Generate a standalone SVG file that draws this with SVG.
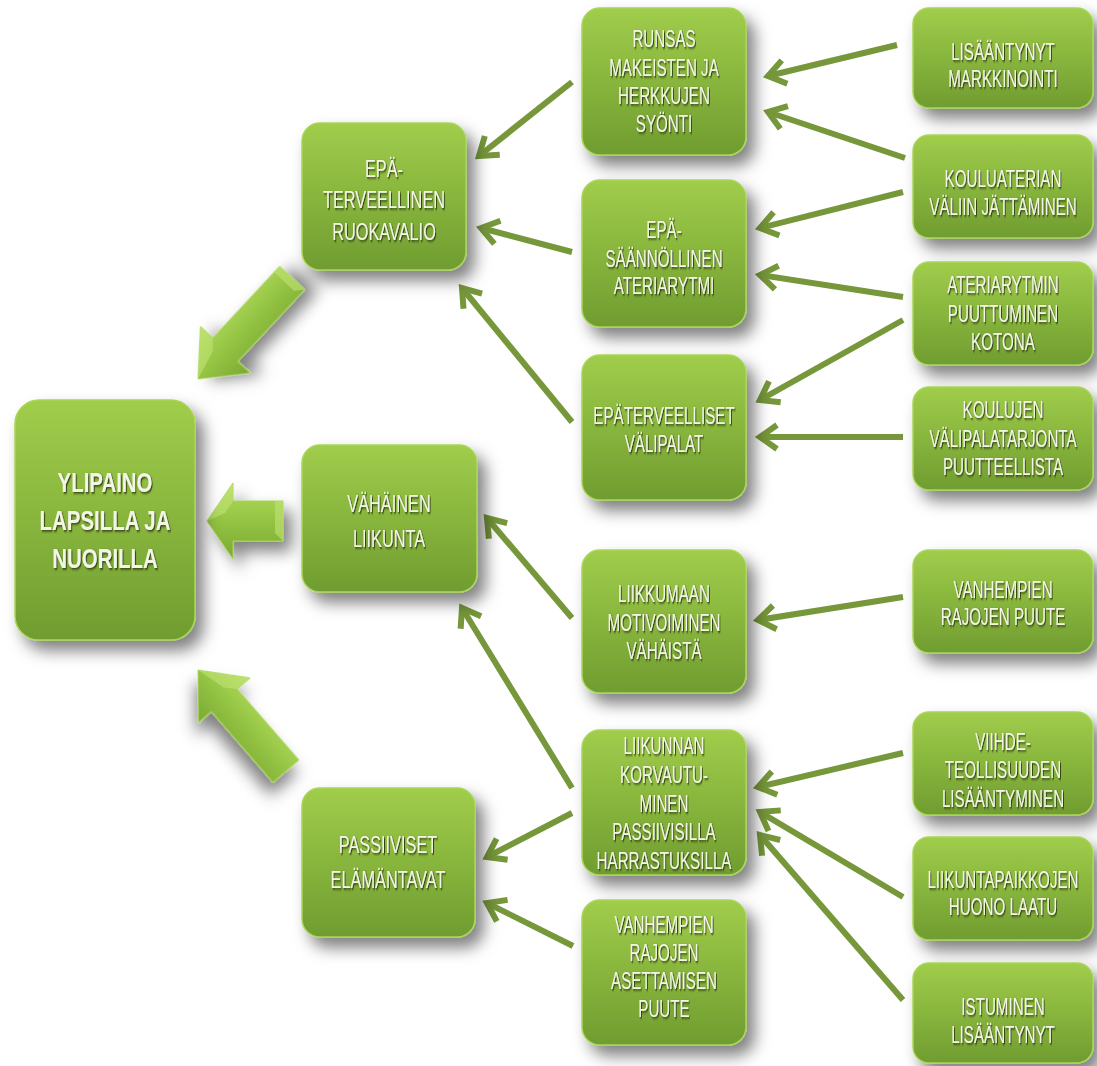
<svg xmlns="http://www.w3.org/2000/svg" width="1097" height="1066" viewBox="0 0 1097 1066">
<defs>
  <linearGradient id="boxGrad" x1="0" y1="0" x2="0" y2="1">
    <stop offset="0" stop-color="#a1cd4c"/>
    <stop offset="0.45" stop-color="#8ab83e"/>
    <stop offset="1" stop-color="#709c30"/>
  </linearGradient>
  <linearGradient id="arrowGrad" x1="0" y1="0" x2="0" y2="1">
    <stop offset="0" stop-color="#b3dc5e"/>
    <stop offset="0.5" stop-color="#94c443"/>
    <stop offset="1" stop-color="#7aa833"/>
  </linearGradient>
  <filter id="boxShadow" x="-25%" y="-25%" width="160%" height="160%">
    <feDropShadow dx="8" dy="10" stdDeviation="8" flood-color="#000" flood-opacity="0.5"/>
  </filter>
  <filter id="textShadow" x="-10%" y="-20%" width="120%" height="150%">
    <feDropShadow dx="1.5" dy="1.5" stdDeviation="0.8" flood-color="#2a3a10" flood-opacity="0.95"/>
  </filter>
  <marker id="ah" markerUnits="userSpaceOnUse" markerWidth="40" markerHeight="40" refX="0" refY="0" orient="auto" overflow="visible">
    <path d="M-17,-12 L0,0 L-17,12" fill="none" stroke="#76973a" stroke-width="6" stroke-linejoin="miter"/>
  </marker>
  <style>
    .box { fill: url(#boxGrad); stroke: #a9d558; stroke-width: 1.5; filter: url(#boxShadow); }
    .t { font-family: "Liberation Sans", Arial, sans-serif; font-size: 23px; fill: #f3f6e4; text-anchor: middle; filter: url(#textShadow); }
    .t1 { font-size: 24px; }
    .tm { font-size: 28px; font-weight: bold; }
    .conn { stroke: #76973a; stroke-width: 6; fill: none; marker-end: url(#ah); }
    .big { fill: url(#arrowGrad); stroke: #a6d255; stroke-width: 1; filter: url(#boxShadow); }
    .facet { fill: #c4e67a; opacity: 0.55; }
  </style>
</defs>
<rect width="1097" height="1066" fill="#ffffff"/>

<!-- connectors -->
<g id="connectors">
  <line class="conn" x1="897" y1="45" x2="768" y2="76"/>
  <line class="conn" x1="905" y1="158" x2="768" y2="112"/>
  <line class="conn" x1="572" y1="82" x2="479" y2="156"/>
  <line class="conn" x1="903" y1="192" x2="760" y2="228"/>
  <line class="conn" x1="572" y1="252" x2="481" y2="228"/>
  <line class="conn" x1="903" y1="297" x2="760" y2="275"/>
  <line class="conn" x1="903" y1="320" x2="760" y2="400"/>
  <line class="conn" x1="903" y1="437" x2="760" y2="437"/>
  <line class="conn" x1="572" y1="422" x2="462" y2="288"/>
  <line class="conn" x1="572" y1="618" x2="487" y2="518"/>
  <line class="conn" x1="572" y1="788" x2="462" y2="608"/>
  <line class="conn" x1="572" y1="813" x2="487" y2="857"/>
  <line class="conn" x1="573" y1="946" x2="487" y2="903"/>
  <line class="conn" x1="903" y1="597" x2="758" y2="620"/>
  <line class="conn" x1="903" y1="753" x2="758" y2="787"/>
  <line class="conn" x1="903" y1="897" x2="760" y2="812"/>
  <line class="conn" x1="903" y1="1000" x2="760" y2="835"/>
</g>

<!-- big 3D arrows -->
<g id="bigArrows">
  <g transform="translate(198,379) rotate(-47)">
    <polygon class="big" points="0,0 40,-34 40,-17 138,-17 138,17 40,17 40,34"/>
    <polygon class="facet" points="0,0 40,-34 40,-17 30,-8"/>
    <polygon class="facet" points="130,-17 138,-17 138,17 130,10"/>
  </g>
  <g transform="translate(207,521)">
    <polygon class="big" points="0,0 26,-38 26,-20 76,-20 76,20 26,20 26,38"/>
    <polygon class="facet" points="0,0 26,-38 26,-20 18,-8"/>
    <polygon class="facet" points="68,-20 76,-20 76,20 68,12"/>
  </g>
  <g transform="translate(198,670) rotate(49)">
    <polygon class="big" points="0,0 40,-34 40,-17 134,-17 134,17 40,17 40,34"/>
    <polygon class="facet" points="0,0 40,-34 40,-17 30,-8"/>
  </g>
</g>

<!-- main node -->
<g id="n_ylipaino">
  <rect class="box" x="15" y="400" width="180" height="240" rx="24"/>
  <g transform="translate(105,0) scale(0.73,1)">
    <text class="t tm"><tspan x="0" y="492">YLIPAINO</tspan><tspan x="0" y="530">LAPSILLA JA</tspan><tspan x="0" y="568">NUORILLA</tspan></text>
  </g>
</g>

<!-- level 1 -->
<g id="n_ruokavalio">
  <rect class="box" x="302" y="123" width="164" height="147" rx="18"/>
  <g transform="translate(384,0) scale(0.68,1)">
    <text class="t t1"><tspan x="0" y="177">EPÄ-</tspan><tspan x="0" y="208">TERVEELLINEN</tspan><tspan x="0" y="240">RUOKAVALIO</tspan></text>
  </g>
</g>
<g id="n_liikunta">
  <rect class="box" x="302" y="445" width="175" height="147" rx="18"/>
  <g transform="translate(389,0) scale(0.68,1)">
    <text class="t t1"><tspan x="0" y="512">VÄHÄINEN</tspan><tspan x="0" y="547">LIIKUNTA</tspan></text>
  </g>
</g>
<g id="n_passiiviset">
  <rect class="box" x="302" y="788" width="173" height="149" rx="18"/>
  <g transform="translate(388,0) scale(0.68,1)">
    <text class="t t1"><tspan x="0" y="853">PASSIIVISET</tspan><tspan x="0" y="888">ELÄMÄNTAVAT</tspan></text>
  </g>
</g>

<!-- level 2 -->
<g id="n_runsas">
  <rect class="box" x="582" y="8" width="164" height="147" rx="18"/>
  <g transform="translate(664,0) scale(0.66,1)">
    <text class="t"><tspan x="0" y="47">RUNSAS</tspan><tspan x="0" y="76">MAKEISTEN JA</tspan><tspan x="0" y="104">HERKKUJEN</tspan><tspan x="0" y="132">SYÖNTI</tspan></text>
  </g>
</g>
<g id="n_saannollinen">
  <rect class="box" x="582" y="180" width="164" height="147" rx="18"/>
  <g transform="translate(664,0) scale(0.66,1)">
    <text class="t"><tspan x="0" y="238">EPÄ-</tspan><tspan x="0" y="267">SÄÄNNÖLLINEN</tspan><tspan x="0" y="294">ATERIARYTMI</tspan></text>
  </g>
</g>
<g id="n_valipalat">
  <rect class="box" x="582" y="355" width="164" height="145" rx="18"/>
  <g transform="translate(664,0) scale(0.66,1)">
    <text class="t"><tspan x="0" y="424">EPÄTERVEELLISET</tspan><tspan x="0" y="452">VÄLIPALAT</tspan></text>
  </g>
</g>
<g id="n_liikkumaan">
  <rect class="box" x="582" y="550" width="164" height="143" rx="18"/>
  <g transform="translate(664,0) scale(0.66,1)">
    <text class="t"><tspan x="0" y="602">LIIKKUMAAN</tspan><tspan x="0" y="631">MOTIVOIMINEN</tspan><tspan x="0" y="659">VÄHÄISTÄ</tspan></text>
  </g>
</g>
<g id="n_liikunnan">
  <rect class="box" x="582" y="730" width="164" height="145" rx="18"/>
  <g transform="translate(664,0) scale(0.66,1)">
    <text class="t"><tspan x="0" y="754">LIIKUNNAN</tspan><tspan x="0" y="783">KORVAUTU-</tspan><tspan x="0" y="812">MINEN</tspan><tspan x="0" y="840">PASSIIVISILLA</tspan><tspan x="0" y="869">HARRASTUKSILLA</tspan></text>
  </g>
</g>
<g id="n_asettamisen">
  <rect class="box" x="582" y="900" width="164" height="145" rx="18"/>
  <g transform="translate(664,0) scale(0.66,1)">
    <text class="t"><tspan x="0" y="933">VANHEMPIEN</tspan><tspan x="0" y="961">RAJOJEN</tspan><tspan x="0" y="989">ASETTAMISEN</tspan><tspan x="0" y="1017">PUUTE</tspan></text>
  </g>
</g>

<!-- level 3 -->
<g id="n_markkinointi">
  <rect class="box" x="913" y="8" width="180" height="100" rx="16"/>
  <g transform="translate(1003,0) scale(0.66,1)">
    <text class="t"><tspan x="0" y="60">LISÄÄNTYNYT</tspan><tspan x="0" y="87">MARKKINOINTI</tspan></text>
  </g>
</g>
<g id="n_kouluaterian">
  <rect class="box" x="913" y="135" width="180" height="103" rx="16"/>
  <g transform="translate(1003,0) scale(0.66,1)">
    <text class="t"><tspan x="0" y="187">KOULUATERIAN</tspan><tspan x="0" y="215">VÄLIIN JÄTTÄMINEN</tspan></text>
  </g>
</g>
<g id="n_ateriarytmin">
  <rect class="box" x="913" y="262" width="180" height="103" rx="16"/>
  <g transform="translate(1003,0) scale(0.66,1)">
    <text class="t"><tspan x="0" y="293">ATERIARYTMIN</tspan><tspan x="0" y="322">PUUTTUMINEN</tspan><tspan x="0" y="350">KOTONA</tspan></text>
  </g>
</g>
<g id="n_koulujen">
  <rect class="box" x="913" y="387" width="180" height="103" rx="16"/>
  <g transform="translate(1003,0) scale(0.66,1)">
    <text class="t"><tspan x="0" y="418">KOULUJEN</tspan><tspan x="0" y="447">VÄLIPALATARJONTA</tspan><tspan x="0" y="475">PUUTTEELLISTA</tspan></text>
  </g>
</g>
<g id="n_rajojen">
  <rect class="box" x="913" y="550" width="180" height="103" rx="16"/>
  <g transform="translate(1003,0) scale(0.66,1)">
    <text class="t"><tspan x="0" y="598">VANHEMPIEN</tspan><tspan x="0" y="625">RAJOJEN PUUTE</tspan></text>
  </g>
</g>
<g id="n_viihde">
  <rect class="box" x="913" y="712" width="180" height="103" rx="16"/>
  <g transform="translate(1003,0) scale(0.66,1)">
    <text class="t"><tspan x="0" y="750">VIIHDE-</tspan><tspan x="0" y="778">TEOLLISUUDEN</tspan><tspan x="0" y="807">LISÄÄNTYMINEN</tspan></text>
  </g>
</g>
<g id="n_liikuntapaikkojen">
  <rect class="box" x="913" y="837" width="180" height="103" rx="16"/>
  <g transform="translate(1003,0) scale(0.66,1)">
    <text class="t"><tspan x="0" y="888">LIIKUNTAPAIKKOJEN</tspan><tspan x="0" y="915">HUONO LAATU</tspan></text>
  </g>
</g>
<g id="n_istuminen">
  <rect class="box" x="913" y="963" width="180" height="100" rx="16"/>
  <g transform="translate(1003,0) scale(0.66,1)">
    <text class="t"><tspan x="0" y="1015">ISTUMINEN</tspan><tspan x="0" y="1043">LISÄÄNTYNYT</tspan></text>
  </g>
</g>
</svg>
